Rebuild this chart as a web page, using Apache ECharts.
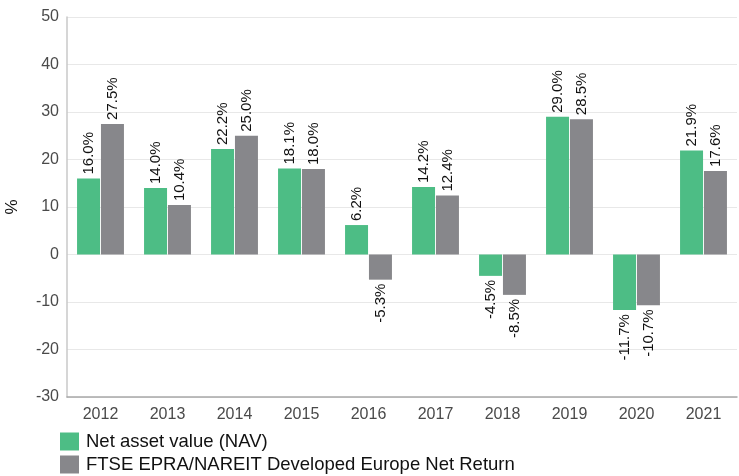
<!DOCTYPE html>
<html>
<head>
<meta charset="utf-8">
<script src="https://cdn.jsdelivr.net/npm/echarts@6/dist/echarts.min.js"></script>
<style>
  html, body { margin: 0; padding: 0; background: #fff; }
  #chart { width: 739px; height: 476px; }
</style>
</head>
<body>
<div id="chart"></div>
<script>
const years = ['2012', '2013', '2014', '2015', '2016', '2017', '2018', '2019', '2020', '2021'];
const navValues = [16.0, 14.0, 22.2, 18.1, 6.2, 14.2, -4.5, 29.0, -11.7, 21.9];
const indexValues = [27.5, 10.4, 25.0, 18.0, -5.3, 12.4, -8.5, 28.5, -10.7, 17.6];
const seriesNames = ['Net asset value (NAV)', 'FTSE EPRA/NAREIT Developed Europe Net Return'];

const font = 'Liberation Sans, Arial, sans-serif';

// positive bars: label above, negative: label below, both read bottom-to-top
function withLabels(values) {
  return values.map(function (v) {
    return {
      value: v,
      label: v < 0
        ? { position: 'bottom', align: 'right', distance: 4 }
        : { position: 'top', align: 'left', distance: 4 }
    };
  });
}

const labelStyle = {
  show: true,
  rotate: 90,
  verticalAlign: 'middle',
  color: '#111',
  fontSize: 15,
  fontFamily: font,
  formatter: function (p) { return p.value.toFixed(1) + '%'; }
};

const legendBase = {
  left: 55,
  itemWidth: 19,
  itemHeight: 18,
  icon: 'rect',
  textStyle: { fontSize: 18.5, color: '#111', fontFamily: font, padding: [0, 0, 0, 2] }
};

var myChart = echarts.init(document.getElementById('chart'));
myChart.setOption({
  animation: false,
  grid: { left: 67, right: 2, top: 17, bottom: 79, outerBoundsMode: 'none' },
  legend: [
    Object.assign({}, legendBase, { top: 427, data: [seriesNames[0]] }),
    Object.assign({}, legendBase, { top: 450, data: [seriesNames[1]] })
  ],
  xAxis: {
    type: 'category',
    data: years,
    axisLine: { onZero: false, lineStyle: { color: '#a8a8a8', width: 1.5 } },
    axisTick: { show: false },
    axisLabel: { color: '#4a4a4a', fontSize: 16, fontFamily: font, margin: 10 }
  },
  yAxis: {
    type: 'value',
    min: -30,
    max: 50,
    interval: 10,
    name: '%',
    nameLocation: 'middle',
    nameGap: 46,
    nameRotate: 90,
    nameTextStyle: { color: '#111', fontSize: 17, fontFamily: font },
    axisLine: { show: true, lineStyle: { color: '#c8c8c8', width: 1.5 } },
    axisTick: { show: false },
    axisLabel: { color: '#4a4a4a', fontSize: 16, fontFamily: font, margin: 8 },
    splitLine: { lineStyle: { color: '#e8e8e8' } }
  },
  series: [
    {
      name: seriesNames[0],
      type: 'bar',
      data: withLabels(navValues),
      barGap: '4%',
      barCategoryGap: '30%',
      itemStyle: { color: '#4dbd85' },
      label: labelStyle
    },
    {
      name: seriesNames[1],
      type: 'bar',
      data: withLabels(indexValues),
      barGap: '4%',
      barCategoryGap: '30%',
      itemStyle: { color: '#87878b' },
      label: labelStyle
    }
  ]
});
</script>
</body>
</html>
